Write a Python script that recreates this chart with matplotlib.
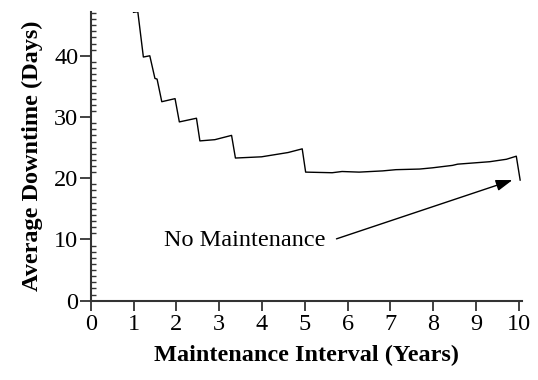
import matplotlib
matplotlib.use('Agg')
import matplotlib.pyplot as plt
from matplotlib.ticker import MultipleLocator

# Average downtime vs maintenance interval
interval_years = [1.00, 1.10, 1.23, 1.38, 1.50, 1.55, 1.66, 1.97, 2.07, 2.47,
                  2.55, 2.90, 3.29, 3.38, 3.99, 4.61, 4.94, 5.02, 5.64, 5.87,
                  6.27, 6.82, 7.13, 7.68, 7.98, 8.45, 8.57, 9.32, 9.71, 9.94,
                  10.03]
downtime_days = [47.1, 47.2, 39.8, 40.0, 36.3, 36.2, 32.5, 33.0, 29.2, 29.8,
                 26.1, 26.3, 27.0, 23.3, 23.5, 24.2, 24.8, 21.0, 20.9, 21.1,
                 21.0, 21.2, 21.4, 21.5, 21.7, 22.1, 22.3, 22.7, 23.1, 23.6,
                 19.7]

annotation_text = "No Maintenance"
arrow_tip = (9.85, 19.7)
arrow_tail = (5.74, 10.1)

plt.rcParams['font.family'] = ['Liberation Serif', 'DejaVu Serif']
FS = 17.5

fig = plt.figure(figsize=(5.38, 3.80), dpi=100)
ax = fig.add_axes([0.1686, 0.2087, 0.8014, 0.7605])

ax.plot(interval_years, downtime_days, color='black', linewidth=1.0)

ax.annotate('', xy=arrow_tip, xytext=arrow_tail,
            arrowprops=dict(arrowstyle='-|>,head_length=0.5,head_width=0.17',
                            color='black', lw=1.0,
                            mutation_scale=20, shrinkA=0, shrinkB=0))
ax.text(arrow_tail[0] - 0.25, arrow_tail[1] - 0.2, annotation_text,
        fontsize=FS, ha='right', va='center')

ax.set_xlim(0, 10.07)
ax.set_ylim(0, 47.2)
ax.xaxis.set_major_locator(MultipleLocator(1))
ax.yaxis.set_major_locator(MultipleLocator(10))
ax.yaxis.set_minor_locator(MultipleLocator(1))

for side in ['top', 'right']:
    ax.spines[side].set_visible(False)
for side in ['left', 'bottom']:
    ax.spines[side].set_linewidth(1.5)
    ax.spines[side].set_color('#333333')

ax.tick_params(axis='both', which='major', direction='out', length=7,
               width=1.3, color='#333333', labelsize=FS, pad=1)
ax.tick_params(axis='x', which='major', pad=2.5)
ax.tick_params(axis='y', which='major', length=8)
ax.tick_params(axis='y', which='minor', direction='in', length=3.5,
               width=1.0, color='#333333')

ax.set_xlabel('Maintenance Interval (Years)', fontsize=FS, fontweight='bold',
              labelpad=7)
ax.set_ylabel('Average Downtime (Days)', fontsize=FS, fontweight='bold',
              labelpad=8)

plt.savefig('out.png', dpi=100)
plt.close()
